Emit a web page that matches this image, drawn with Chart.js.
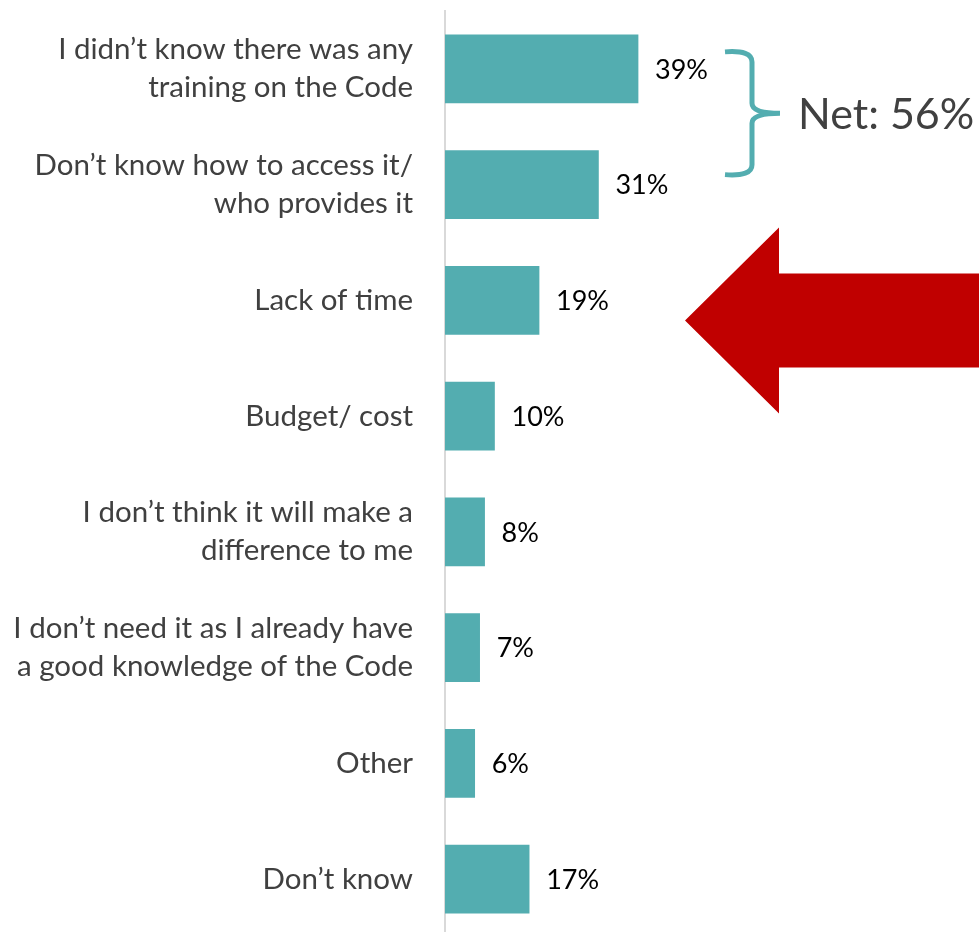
<!DOCTYPE html>
<html>
<head>
<meta charset="utf-8">
<script src="https://cdn.jsdelivr.net/npm/chart.js@4"></script>
<style>
    body { margin: 0; overflow: hidden; background: #fff; }
</style>
</head>
<body>
<canvas id="reasonsChart" width="979" height="940"></canvas>
<script>
const reasons = [
    ['I didn’t know there was any', 'training on the Code'],
    ['Don’t know how to access it/', 'who provides it'],
    'Lack of time',
    'Budget/ cost',
    ['I don’t think it will make a', 'difference to me'],
    ['I don’t need it as I already have', 'a good knowledge of the Code'],
    'Other',
    'Don’t know'
];

const percentages = [39, 31, 19, 10, 8, 7, 6, 17];

const netLabel = 'Net: ';
const netValue = 56;

const teal = '#53ADB0';
const red = '#C00000';
const fontFamily = 'Lato, "Open Sans", sans-serif';

// percentage text just to the right of each bar
const valueLabels = {
    id: 'valueLabels',
    afterDatasetsDraw(chart) {
        const ctx = chart.ctx;
        const meta = chart.getDatasetMeta(0);
        ctx.save();
        ctx.font = `27px ${fontFamily}`;
        ctx.fillStyle = '#000';
        ctx.textAlign = 'left';
        ctx.textBaseline = 'middle';
        meta.data.forEach((bar, i) => {
            ctx.fillText(`${percentages[i]}%`, bar.x + 17, bar.y + 1);
        });
        ctx.restore();
    }
};

// curly bracket over the first two bars plus the red arrow at "Lack of time"
const callouts = {
    id: 'callouts',
    afterDraw(chart) {
        const ctx = chart.ctx;
        const y = chart.scales.y;
        const left = chart.chartArea.left;

        const top = y.getPixelForValue(0) - 17;
        const bottom = y.getPixelForValue(1) - 10;
        const mid = (top + bottom) / 2;
        const bx = left + 280;
        const vx = bx + 27;

        ctx.save();
        ctx.strokeStyle = teal;
        ctx.lineWidth = 5;
        ctx.lineCap = 'butt';
        ctx.beginPath();
        ctx.moveTo(bx, top);
        ctx.quadraticCurveTo(vx, top - 2, vx, top + 10);
        ctx.lineTo(vx, mid - 10);
        ctx.quadraticCurveTo(vx, mid, vx + 28, mid);
        ctx.moveTo(vx + 28, mid);
        ctx.quadraticCurveTo(vx, mid, vx, mid + 10);
        ctx.lineTo(vx, bottom - 10);
        ctx.quadraticCurveTo(vx, bottom + 2, bx, bottom);
        ctx.stroke();

        ctx.font = `43px ${fontFamily}`;
        ctx.fillStyle = '#404040';
        ctx.textAlign = 'left';
        ctx.textBaseline = 'middle';
        ctx.fillText(`${netLabel}${netValue}%`, vx + 46, mid + 2);

        const ay = y.getPixelForValue(2) + 20;
        const tipX = left + 240;
        const headX = tipX + 94;
        ctx.fillStyle = red;
        ctx.beginPath();
        ctx.moveTo(tipX, ay);
        ctx.lineTo(headX, ay - 93);
        ctx.lineTo(headX, ay - 47);
        ctx.lineTo(chart.width, ay - 47);
        ctx.lineTo(chart.width, ay + 47);
        ctx.lineTo(headX, ay + 47);
        ctx.lineTo(headX, ay + 93);
        ctx.closePath();
        ctx.fill();
        ctx.restore();
    }
};

const ctx = document.getElementById('reasonsChart').getContext('2d');
new Chart(ctx, {
    type: 'bar',
    data: {
        labels: reasons,
        datasets: [{
            data: percentages,
            backgroundColor: teal,
            borderWidth: 0,
            barThickness: 68
        }]
    },
    options: {
        indexAxis: 'y',
        responsive: false,
        animation: false,
        layout: {
            padding: { top: 11, right: 39, bottom: 3, left: 0 }
        },
        plugins: {
            legend: { display: false },
            tooltip: { enabled: false }
        },
        scales: {
            x: {
                display: false,
                min: 0,
                max: 100
            },
            y: {
                afterFit(scale) {
                    // fixed label column, and no extra room for the tall first/last labels
                    scale.width = 445;
                    scale.paddingTop = 0;
                    scale.paddingBottom = 0;
                },
                grid: { display: false, drawTicks: false },
                border: { display: true, color: '#d9d9d9', width: 2 },
                ticks: {
                    padding: 32,
                    color: '#404040',
                    font: { family: fontFamily, size: 29.5, lineHeight: 1.29 }
                }
            }
        }
    },
    plugins: [valueLabels, callouts]
});
</script>
</body>
</html>
